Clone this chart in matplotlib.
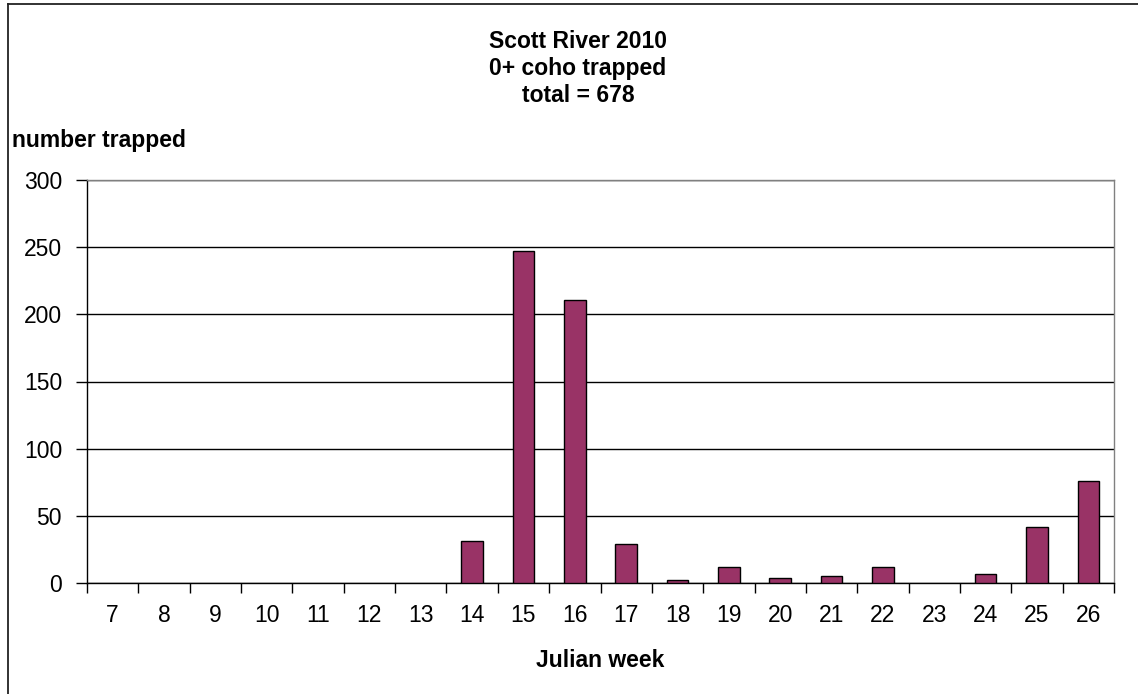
import matplotlib
matplotlib.use("Agg")
import matplotlib.pyplot as plt
import numpy as np

plt.rcParams['font.family'] = ['Liberation Sans', 'DejaVu Sans']

# Weekly trap counts, 0+ coho, Scott River 2010
weeks = [7, 8, 9, 10, 11, 12, 13, 14, 15, 16, 17, 18, 19, 20, 21, 22, 23, 24, 25, 26]
counts = [0, 0, 0, 0, 0, 0, 0, 31, 247, 211, 29, 2, 12, 4, 5, 12, 0, 7, 42, 76]
y_ticks = [0, 50, 100, 150, 200, 250, 300]
title_lines = ["Scott River 2010", "0+ coho trapped", f"total = {sum(counts)}"]

W, H = 1138, 694
FS = 16.5
fig = plt.figure(figsize=(W / 100, H / 100), dpi=100)

# chart-area frame (left and top edges visible)
fig.add_artist(plt.Line2D([8 / W, 8 / W], [0, 1 - 4 / H], color='#222222', lw=1.3,
                          transform=fig.transFigure))
fig.add_artist(plt.Line2D([8 / W, 1], [1 - 4 / H, 1 - 4 / H], color='#222222', lw=1.3,
                          transform=fig.transFigure))

left, right, top, bottom = 87, 1114, 180, 583
ax = fig.add_axes([left / W, 1 - bottom / H, (right - left) / W, (bottom - top) / H])

x = np.arange(len(weeks))
bars = ax.bar(x, counts, width=0.42, color='#993366', edgecolor='black',
              linewidth=1.0, zorder=3)
for b, c in zip(bars, counts):
    if c == 0:
        b.set_linewidth(0)

ax.set_xlim(-0.5, len(weeks) - 0.5)
ax.set_ylim(0, 300)
ax.set_yticks(y_ticks)
ax.set_yticklabels([str(v) for v in y_ticks], fontsize=FS)

# category labels centred, tick marks between categories
ax.set_xticks(x)
ax.set_xticklabels([str(w) for w in weeks], fontsize=FS)
ax.tick_params(axis='x', which='major', length=0, pad=15)
ax.set_xticks(np.arange(-0.5, len(weeks)), minor=True)
ax.tick_params(axis='x', which='minor', length=7, width=1.0, color='black', direction='out')
ax.tick_params(axis='y', length=8, width=1.0, color='black', direction='out', pad=10)

ax.yaxis.grid(True, color='black', linewidth=1.0, zorder=0)
ax.set_axisbelow(True)

for s in ['left', 'bottom']:
    ax.spines[s].set_color('black')
    ax.spines[s].set_linewidth(1.0)
ax.spines['right'].set_color('#808080')
ax.spines['right'].set_linewidth(1.0)
ax.spines['top'].set_color('#808080')
ax.spines['top'].set_linewidth(1.0)

for line, base in zip(title_lines, [48, 75, 102]):
    fig.text(578 / W, 1 - base / H, line, ha='center', va='baseline',
             fontsize=FS, fontweight='bold')
fig.text(12 / W, 1 - 147 / H, "number trapped", ha='left', va='baseline',
         fontsize=FS, fontweight='bold')
fig.text(600 / W, 1 - 667 / H, "Julian week", ha='center', va='baseline',
         fontsize=FS, fontweight='bold')

fig.savefig("out.png", dpi=100)
